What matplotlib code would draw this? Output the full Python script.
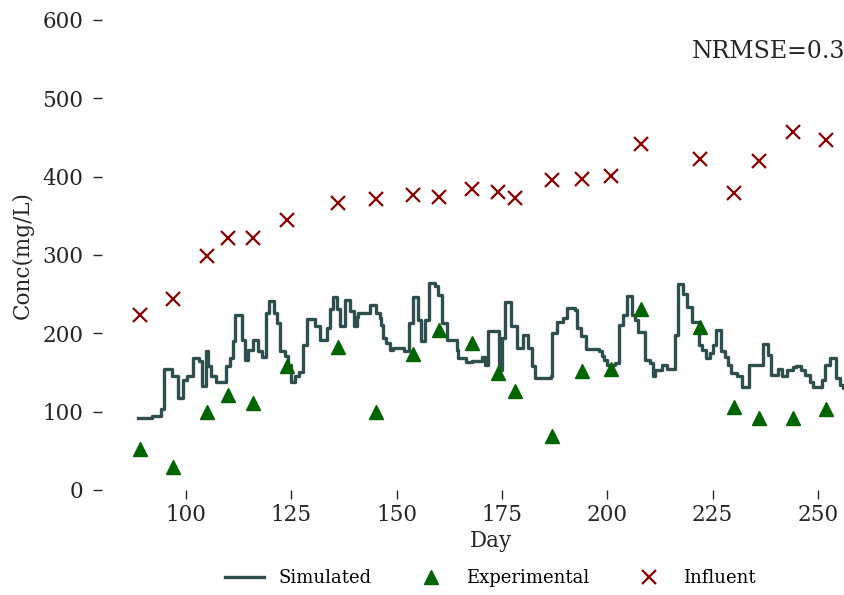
import matplotlib
matplotlib.use("Agg")
import matplotlib.pyplot as plt

plt.rcParams['font.family'] = ['DejaVu Serif']

# ---- data ----
sim_day = [88.7, 91.9, 93.8, 94.1, 94.9, 96.6, 98.0, 99.4, 100.3, 101.7, 103.1, 103.7,
           104.8, 105.3, 105.9, 107.1, 109.5, 110.4, 111.2, 111.6, 113.4, 113.9, 114.8,
           116.0, 117.2, 118.0, 118.9, 119.6, 120.9, 121.5, 122.3, 123.5, 124.3, 124.9,
           125.9, 126.9, 127.9, 128.8, 130.6, 131.8, 133.6, 134.2, 134.9, 135.9, 136.5,
           137.7, 138.9, 139.9, 140.5, 140.9, 143.8, 145.1, 146.0, 146.4, 146.8, 147.6,
           148.4, 149.2, 151.8, 152.9, 153.8, 155.2, 155.8, 156.7, 157.7, 159.1, 159.9,
           160.7, 161.9, 164.3, 164.6, 166.6, 167.8, 170.2, 171.0, 171.8, 174.4, 175.0,
           175.7, 177.1, 178.5, 180.1, 181.3, 182.1, 182.8, 186.6, 187.0, 188.0, 189.6,
           190.4, 192.3, 192.9, 193.9, 194.9, 198.1, 198.7, 199.2, 199.9, 201.8, 202.9,
           203.7, 204.6, 206.0, 206.6, 207.4, 209.0, 210.2, 210.8, 211.3, 212.9, 214.1,
           216.1, 216.9, 218.1, 218.9, 220.2, 221.8, 222.6, 223.4, 224.4, 225.2, 225.8,
           227.1, 227.9, 228.7, 229.5, 230.7, 231.9, 233.7, 236.9, 238.2, 238.8, 240.6,
           241.6, 242.6, 244.1, 244.9, 245.9, 246.9, 248.1, 248.9, 250.9, 251.7, 252.9,
           254.3, 255.2, 256.0, 265.0]
sim_val = [92, 94, 95, 104, 154, 145, 118, 140, 146, 169, 165, 133,
           177, 158, 145, 138, 158, 169, 190, 224, 192, 166, 179,
           191, 177, 170, 226, 241, 226, 213, 177, 171, 160, 138,
           145, 151, 185, 218, 209, 192, 207, 231, 246, 231, 209,
           243, 228, 209, 221, 226, 236, 226, 219, 211, 194, 188,
           179, 181, 177, 213, 247, 217, 190, 217, 264, 260, 249,
           213, 192, 179, 168, 163, 165, 170, 160, 203, 153, 194,
           240, 209, 181, 198, 181, 158, 143, 145, 200, 215, 219,
           232, 230, 207, 196, 180, 177, 171, 166, 160, 162, 211,
           224, 248, 224, 217, 202, 166, 162, 145, 153, 160, 155,
           198, 263, 250, 234, 215, 185, 179, 168, 175, 185, 204,
           177, 170, 160, 149, 145, 132, 160, 187, 172, 147, 155,
           145, 153, 157, 158, 153, 147, 138, 131, 140, 160, 169,
           143, 134, 130, 130]

obs_day = [89, 97, 105, 110, 116, 124, 136, 145, 154, 160, 168, 174, 178, 187,
           194, 201, 208, 222, 230, 236, 244, 252]
exp_val = [52, 29, 99, 121, 111, 158, 182, 99, 173, 204, 188, 150, 127, 69,
           152, 155, 231, 208, 106, 92, 92, 104]
inf_val = [223, 244, 299, 322, 322, 345, 367, 371, 377, 374, 384, 380, 373, 396,
           397, 401, 442, 422, 379, 420, 457, 447]

yticks = [0, 100, 200, 300, 400, 500, 600]
xticks = [100, 125, 150, 175, 200, 225, 250]

# ---- figure ----
fig = plt.figure(figsize=(8.45, 5.95), dpi=100)
ax = fig.add_axes([101.7 / 845, 1 - 490 / 595, (881 - 101.7) / 845, 470 / 595])

ax.plot(sim_day, sim_val, drawstyle='steps-post', color='#2F4F4F', lw=2.4,
        label='Simulated', clip_on=True)
ax.plot(obs_day, exp_val, linestyle='none', marker='^', color='#006400',
        markersize=10, label='Experimental')
ax.plot(obs_day, inf_val, linestyle='none', marker='x', color='#8B0000',
        markersize=10, markeredgewidth=1.6, label='Influent')

ax.set_xlim(80, 265)
ax.set_ylim(0, 600)
ax.set_xticks(xticks)
ax.set_yticks(yticks)
for s in ax.spines.values():
    s.set_visible(False)
ax.tick_params(axis='both', labelsize=15.5, colors='#262626', length=6.2, width=1.0)
ax.tick_params(axis='y', pad=7)
ax.tick_params(axis='x', pad=4)
ax.set_xlabel('Day', fontsize=15.5, color='#262626', labelpad=3)
ax.set_ylabel('Conc(mg/L)', fontsize=15.5, color='#262626', labelpad=6)

fig.text(692 / 845, 1 - 51 / 595, 'NRMSE=0.3', fontsize=17, color='#262626',
         ha='left', va='center')

fig.legend(loc='center', bbox_to_anchor=(490 / 845, 1 - 578 / 595), ncol=3,
           frameon=False, fontsize=13, handlelength=2.2, handletextpad=0.8,
           columnspacing=2.2)

fig.savefig('out.png', dpi=100)
